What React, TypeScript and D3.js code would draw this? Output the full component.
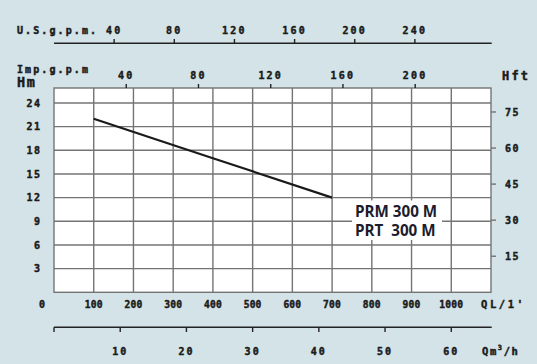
import React from "react";
import * as d3 from "d3";

const flowLpm = [100, 400, 700];
const headM = [22, 17, 12];
const lpmTicks = [100, 200, 300, 400, 500, 600, 700, 800, 900, 1000];
const hmTicks = [3, 6, 9, 12, 15, 18, 21, 24];
const hftTicks = [15, 30, 45, 60, 75];
const usTicks = [40, 80, 120, 160, 200, 240];
const impTicks = [40, 80, 120, 160, 200];
const m3hTicks = [10, 20, 30, 40, 50, 60];
const modelLabels = ["PRM 300 M", "PRT  300 M"];

const W = 537, H = 364;
const L = 54, R = 491, T = 88, B = 292.3;
const BG = "#d3e3e8";
const GRID = "#747474";
const TXT = "#1a1a1a";
const MONO = "'DejaVu Sans Mono', monospace";

export default function App() {
  const x = d3.scaleLinear().domain([0, 1100]).range([L, R]);
  const y = d3.scaleLinear().domain([0, 25.9]).range([B, T]);
  const yft = d3.scaleLinear().domain([0, 25.9 / 0.3048]).range([B, T]);
  const US = 3.785, IMP = 4.546;
  const line = d3.line<number>()
    .x((_, i) => x(flowLpm[i]))
    .y((d) => y(d));
  const vGrid = d3.range(100, 1100, 100);
  const lab = { fontFamily: MONO, fontWeight: 700, fill: TXT, stroke: TXT, strokeWidth: 0.45 } as const;

  return (
    <svg width={W} height={H} style={{ position: "absolute", left: 0, top: 0 }}>
      <rect x={0} y={0} width={W} height={H} fill={BG} />
      <rect x={L} y={T} width={R - L} height={B - T} fill="#fff" />
      {vGrid.map((v) => (
        <line key={"v" + v} x1={x(v)} x2={x(v)} y1={T} y2={B} stroke={GRID} strokeWidth={1.4} />
      ))}
      {hmTicks.map((v) => (
        <line key={"h" + v} x1={L} x2={R} y1={y(v)} y2={y(v)} stroke={GRID} strokeWidth={1.4} />
      ))}
      <rect x={L} y={T} width={R - L} height={B - T} fill="none" stroke={GRID} strokeWidth={1.4} />

      {/* curve */}
      <path d={line(headM) || ""} fill="none" stroke="#1a1a1a" strokeWidth={2.2} />

      {/* model label */}
      <rect x={352} y={200.5} width={90} height={39.5} fill="#fff" />
      {modelLabels.map((t, i) => (
        <text key={t} x={355} y={216.5 + i * 19.8} fontFamily="'Open Sans', sans-serif" fontWeight={700}
          fontSize={15.2} fill="#1c1c2c" style={{ whiteSpace: "pre" }}>{t}</text>
      ))}

      {/* left Hm labels */}
      {hmTicks.map((v) => (
        <text key={"hl" + v} x={41.5} y={y(v) + 3.6} textAnchor="end" fontSize={10} letterSpacing={1.5} {...lab}>{v}</text>
      ))}
      <text x={17} y={87} fontSize={13.5} letterSpacing={1.5} {...lab}>Hm</text>

      {/* right Hft */}
      {hftTicks.map((v) => (
        <g key={"hf" + v}>
          <line x1={R} x2={R + 5} y1={yft(v)} y2={yft(v)} stroke={GRID} strokeWidth={1.4} />
          <text x={505} y={yft(v) + 3.6} fontSize={10} letterSpacing={1.5} {...lab}>{v}</text>
        </g>
      ))}
      <text x={502} y={80} fontSize={12} letterSpacing={2.2} {...lab}>Hft</text>

      {/* l/min labels */}
      <text x={42} y={308} textAnchor="middle" fontSize={10} {...lab}>0</text>
      {lpmTicks.map((v) => (
        <text key={"q" + v} x={x(v)} y={308} textAnchor="middle" fontSize={9.6} letterSpacing={0.2} {...lab}>{v}</text>
      ))}
      <text x={481} y={308} fontSize={10.5} letterSpacing={2.6} {...lab}>QL/1'</text>

      {/* m3/h axis */}
      <line x1={L} x2={491.7} y1={327.3} y2={327.3} stroke="#222" strokeWidth={1.4} />
      <line x1={L} x2={L} y1={327.3} y2={332} stroke="#222" strokeWidth={1.4} />
      {m3hTicks.map((v) => (
        <g key={"m" + v}>
          <line x1={x((v * 1000) / 60)} x2={x((v * 1000) / 60)} y1={327.3} y2={332} stroke="#222" strokeWidth={1.4} />
          <text x={x((v * 1000) / 60)} y={355} textAnchor="middle" fontSize={10} letterSpacing={2} {...lab}>{v}</text>
        </g>
      ))}
      <text x={482} y={355} fontSize={10.5} letterSpacing={1.6} {...lab}>
        Qm<tspan fontSize={7} dy={-5}>3</tspan><tspan dy={5}>/h</tspan>
      </text>

      {/* US gpm axis */}
      <line x1={L} x2={491.7} y1={43.3} y2={43.3} stroke="#222" strokeWidth={1.4} />
      {usTicks.map((v) => (
        <g key={"us" + v}>
          <line x1={x(v * US)} x2={x(v * US)} y1={39} y2={43.3} stroke="#222" strokeWidth={1.4} />
          <text x={x(v * US)} y={33.5} textAnchor="middle" fontSize={10} letterSpacing={2.2} {...lab}>{v}</text>
        </g>
      ))}
      <text x={17} y={33.5} fontSize={10} letterSpacing={2.1} {...lab}>U.S.g.p.m.</text>

      {/* Imp gpm axis */}
      {impTicks.map((v) => (
        <g key={"imp" + v}>
          <line x1={x(v * IMP)} x2={x(v * IMP)} y1={84} y2={T} stroke="#222" strokeWidth={1.4} />
          <text x={x(v * IMP)} y={78.5} textAnchor="middle" fontSize={10} letterSpacing={2.2} {...lab}>{v}</text>
        </g>
      ))}
      <text x={17} y={73} fontSize={10} letterSpacing={2.1} {...lab}>Imp.g.p.m</text>
    </svg>
  );
}
